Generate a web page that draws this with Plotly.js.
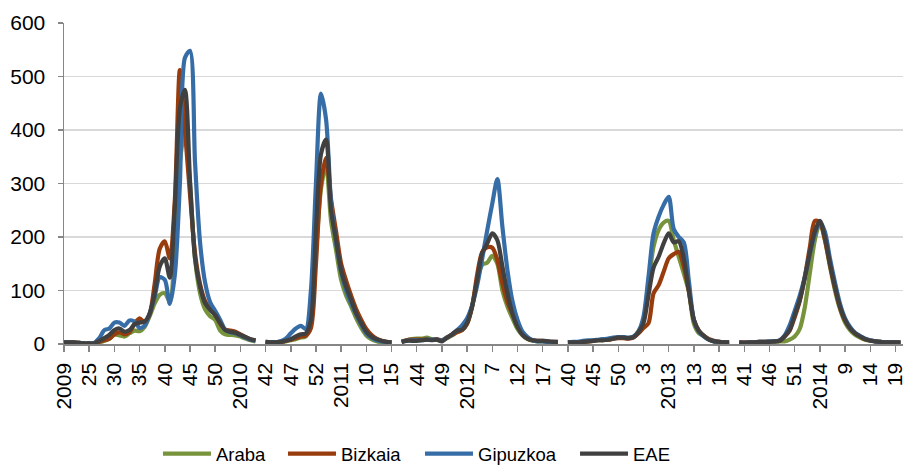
<!DOCTYPE html>
<html>
<head>
<meta charset="utf-8">
<script src="https://cdn.plot.ly/plotly-3.0.1.min.js"></script>
<style>
  html, body { margin: 0; padding: 0; background: #fff; }
  #chart { width: 905px; height: 467px; }
</style>
</head>
<body>
<div id="chart"></div>
<script>
// Weekly rates per season (2009-10 … 2013-14); null marks the break between seasons.
const tickLabels = ["2009","25","30","35","40","45","50","2010","42","47","52","2011","10","15",
  "44","49","2012","7","12","17","40","45","50","3","2013","13","18","41","46","51","2014","9","14","19"];

const araba = [
  2,2,2,2,1,1,1,3,6,10,18,16,14,20,25,24,32,52,76,92,95,80,180,340,400,300,160,95,65,52,45,25,18,17,16,14,10,7,5,
  null,
  3,3,3,3,5,7,9,12,14,40,170,290,335,230,175,120,90,70,48,30,16,9,5,3,2,2,
  null,
  4,7,9,10,10,12,9,8,6,11,16,22,26,38,72,120,148,152,165,150,100,70,48,28,16,9,6,5,5,4,3,3,
  null,
  3,3,3,4,5,6,7,7,8,10,12,12,11,13,24,45,115,182,213,227,230,194,163,132,98,38,20,15,8,5,4,3,3,
  null,
  2,2,2,3,3,3,4,4,5,5,8,14,28,68,132,194,226,195,145,100,65,40,26,17,12,8,6,5,4,3,3,2,2
];

const bizkaia = [
  3,3,3,2,1,1,1,4,7,10,18,22,18,22,38,48,40,55,113,178,192,160,270,512,400,280,170,112,80,66,55,38,27,25,23,18,13,9,7,
  null,
  4,3,3,4,6,8,11,14,16,30,150,300,348,270,210,150,118,90,65,45,28,17,10,6,4,3,
  null,
  4,7,8,8,8,8,8,9,7,12,17,22,26,38,70,130,172,181,180,157,113,79,56,35,18,10,7,6,6,5,4,4,
  null,
  3,3,3,4,5,6,7,8,8,10,11,11,10,12,20,30,39,95,110,135,160,168,172,145,100,45,25,15,9,6,4,3,3,
  null,
  3,3,3,3,4,4,4,5,6,14,25,50,80,125,180,230,228,195,148,105,68,44,30,20,14,9,7,5,4,3,3,3,3
];

const gipuzkoa = [
  3,3,2,2,1,1,2,11,26,29,40,40,34,44,42,30,34,57,88,125,120,75,130,300,535,548,340,190,115,78,62,45,26,22,20,16,12,8,6,
  null,
  3,3,3,5,10,20,29,34,28,100,300,468,420,265,190,135,100,76,55,36,20,12,7,5,3,2,
  null,
  4,6,7,7,7,8,8,8,7,12,18,26,35,48,72,110,160,213,263,308,219,138,80,45,23,13,7,5,5,4,4,3,
  null,
  3,4,4,6,7,7,8,9,10,12,13,13,12,14,23,51,126,207,238,260,275,215,200,190,118,45,23,14,8,5,4,3,3,
  null,
  3,2,3,3,4,4,5,5,7,16,35,62,90,125,168,205,228,210,160,115,75,48,32,21,15,10,7,5,4,3,3,3,2
];

const eae = [
  3,3,3,2,1,1,1,6,11,17,26,29,23,26,37,40,42,57,95,145,160,124,257,440,475,307,160,107,76,64,54,39,26,23,21,17,13,9,7,
  null,
  4,3,3,4,6,9,14,18,20,45,213,355,382,250,194,138,107,82,57,39,23,14,9,6,4,3,
  null,
  4,6,6,6,7,8,7,8,5,12,18,25,27,40,70,120,170,188,207,194,145,95,57,32,17,10,7,6,6,5,4,4,
  null,
  3,3,3,4,5,6,7,7,8,10,12,12,11,13,22,39,92,143,163,188,207,190,192,160,100,45,24,15,8,5,4,3,3,
  null,
  3,2,3,3,4,4,4,5,6,14,26,54,82,123,170,210,230,200,151,107,70,45,29,20,14,9,6,5,4,3,3,3,3
];

const seriesNames = ["Araba", "Bizkaia", "Gipuzkoa", "EAE"];
const seriesColors = ["#77933C", "#983B0D", "#376DA6", "#404040"];
const seriesValues = [araba, bizkaia, gipuzkoa, eae];

// Category positions along the axis (one per week slot, including the season breaks)
const xPos = eae.map((_, i) => i);
const tickPos = tickLabels.map((_, i) => i * 5);

// Each series gets its own legend box so the entries can sit at fixed spots
const legendIds = ["legend", "legend2", "legend3", "legend4"];
const legendX = [0.112, 0.261, 0.4243, 0.6091];

const traces = seriesValues.map((vals, k) => ({
  type: "scatter",
  mode: "lines",
  name: seriesNames[k],
  legend: legendIds[k],
  x: xPos,
  y: vals,
  connectgaps: false,
  line: { color: seriesColors[k], width: 4.2, shape: "spline", smoothing: 0.8 }
}));

const font = "Liberation Sans, Arial, Helvetica, sans-serif";

const layout = {
  width: 905,
  height: 467,
  margin: { l: 64, r: 2, t: 23, b: 123, autoexpand: false },
  paper_bgcolor: "#ffffff",
  plot_bgcolor: "#ffffff",
  font: { family: font, color: "#000000", size: 20 },
  showlegend: true,
  xaxis: {
    range: [0, 166.5],
    tickmode: "array",
    tickvals: tickPos,
    ticktext: tickLabels,
    tickangle: -90,
    tickfont: { family: font, size: 21, color: "#000000" },
    ticklabeloverflow: "allow",
    ticklabelstandoff: 3,
    ticks: "outside",
    ticklen: 6,
    tickwidth: 1.5,
    tickcolor: "#868686",
    showline: true,
    linecolor: "#868686",
    linewidth: 1.5,
    showgrid: false,
    zeroline: false,
    fixedrange: true
  },
  yaxis: {
    range: [0, 600],
    tickmode: "linear",
    tick0: 0,
    dtick: 100,
    tickfont: { family: font, size: 21, color: "#000000" },
    ticklabelstandoff: 8,
    ticks: "outside",
    ticklen: 5,
    tickwidth: 1.5,
    tickcolor: "#868686",
    showline: true,
    linecolor: "#868686",
    linewidth: 1.5,
    showgrid: true,
    gridcolor: "#D9D9D9",
    gridwidth: 1.5,
    zeroline: false,
    fixedrange: true
  }
};

legendIds.forEach((id, k) => {
  layout[id] = {
    orientation: "h",
    x: legendX[k],
    xanchor: "left",
    y: -0.343,
    yanchor: "middle",
    font: { family: font, size: 18.5, color: "#000000" },
    bgcolor: "rgba(0,0,0,0)",
    itemwidth: 48
  };
});

Plotly.newPlot("chart", traces, layout, { staticPlot: true, displayModeBar: false });
</script>
</body>
</html>
